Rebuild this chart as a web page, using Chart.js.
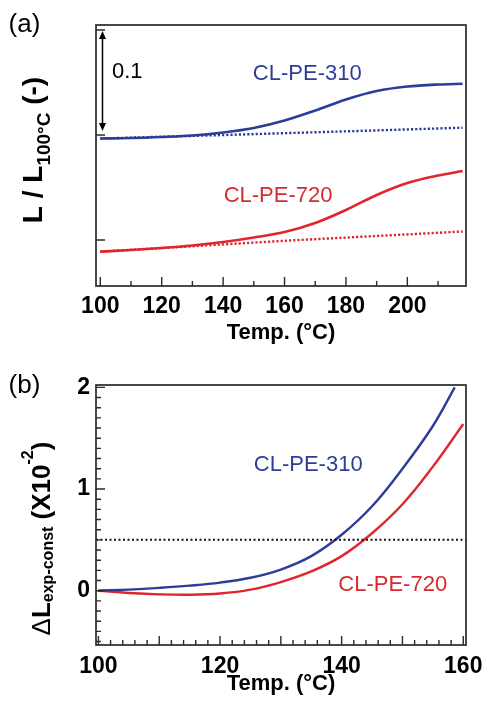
<!DOCTYPE html>
<html><head><meta charset="utf-8">
<script src="https://cdn.jsdelivr.net/npm/chart.js@4.4.0/dist/chart.umd.min.js"></script>
<style>
html,body{margin:0;padding:0;background:#fff;width:485px;height:705px;overflow:hidden}
canvas{position:absolute;left:0}
#ca{top:0}
#cb{top:350px}
</style></head><body>
<canvas id="ca" width="485" height="350" style="width:485px;height:350px"></canvas>
<canvas id="cb" width="485" height="355" style="width:485px;height:355px"></canvas>
<script>
// ===== Panel (a) data =====
const tempA = [100,110,120,130,140,150,160,170,180,190,200,210,218];
const pe310A = [0.9967,0.9971,0.9981,0.9995,1.0024,1.0067,1.0138,1.0233,1.0338,1.0419,1.0462,1.0481,1.0488];
const pe720A = [0.8889,0.8905,0.8924,0.8948,0.8981,0.9024,0.9076,0.9162,0.9286,0.9429,0.9543,0.9614,0.9657];
const tempConst310A = [100,140,180,218];
const pe310ConstA = [0.9967,1.0000,1.0035,1.0070];
const tempConst720A = [100,160,218];
const pe720ConstA = [0.8889,0.8993,0.9081];
const xLabelsA = [100,120,140,160,180,200];
const yTicksA = [0.9,1.0,1.1];

// ===== Panel (b) data =====
const temp310B = [100,105,110,115,120,125,130,135,140,145,150,155,158.6];
const pe310B = [0,0.011,0.028,0.05,0.08,0.127,0.208,0.34,0.55,0.83,1.20,1.62,2.0];
const temp720B = [100,105,110,115,120,125,130,135,140,145,150,155,160];
const pe720B = [0,-0.022,-0.036,-0.040,-0.028,0.01,0.085,0.19,0.34,0.565,0.85,1.22,1.64];
const thresholdB = 0.5;
const xLabelsB = [100,120,140,160];
const yLabelsB = [0,1,2];

const BLUE = '#2c3c9a';
const RED = '#e0262c';
const BLUE_T = '#2e3d98';
const RED_T = '#d72a30';
const FONT = '"Liberation Sans", Arial, Helvetica, sans-serif';

const zip = (xs, ys) => xs.map((x, i) => ({x, y: ys[i]}));
const near = (v, step) => Math.abs(v / step - Math.round(v / step)) < 1e-6;

function frameTicks(cfg) {
  return {
    id: 'frameTicks',
    afterDraw(chart) {
      const {ctx, chartArea: a, scales: {x, y}} = chart;
      ctx.save();
      ctx.strokeStyle = '#2a2a2a';
      ctx.lineWidth = 1.4;
      ctx.beginPath();
      for (let v = cfg.x0; v <= cfg.x1 + 1e-9; v += cfg.xStep) {
        const p = x.getPixelForValue(v);
        const L = near(v, cfg.xMajor) ? 9 : 5;
        ctx.moveTo(p, a.bottom); ctx.lineTo(p, a.bottom - L);
      }
      for (let v = cfg.y0; v <= cfg.y1 + 1e-9; v += cfg.yStep) {
        const p = y.getPixelForValue(v);
        const L = near(v, cfg.yMajor) ? 9 : 5;
        ctx.moveTo(a.left, p); ctx.lineTo(a.left + L, p);
      }
      ctx.stroke();
      ctx.lineWidth = 1.7;
      ctx.strokeRect(a.left, a.top, a.right - a.left, a.bottom - a.top);
      ctx.restore();
    }
  };
}

function drawRich(ctx, parts, cx, cy) {
  ctx.save();
  ctx.translate(cx, cy);
  ctx.rotate(-Math.PI / 2);
  ctx.textBaseline = 'alphabetic';
  ctx.textAlign = 'left';
  ctx.fillStyle = '#000';
  let total = 0;
  parts.forEach(p => { ctx.font = p.font; p.w = ctx.measureText(p.t).width; total += p.w; });
  let xx = -total / 2;
  parts.forEach(p => { ctx.font = p.font; ctx.fillText(p.t, xx, p.dy || 0); xx += p.w; });
  ctx.restore();
}

function label(ctx, text, x, y, font, color, align) {
  ctx.save();
  ctx.font = font; ctx.fillStyle = color;
  ctx.textAlign = align || 'center'; ctx.textBaseline = 'middle';
  ctx.fillText(text, x, y);
  ctx.restore();
}

const annotA = {
  id: 'annotA',
  afterDraw(chart) {
    const {ctx, chartArea: a, scales: {x, y}} = chart;
    label(ctx, '(a)', 24.5, 25, '26px ' + FONT, '#000');
    label(ctx, 'CL-PE-310', x.getPixelForValue(167.4), y.getPixelForValue(1.0581), '22px ' + FONT, BLUE_T);
    label(ctx, 'CL-PE-720', x.getPixelForValue(157.9), y.getPixelForValue(0.9419), '22px ' + FONT, RED_T);
    label(ctx, '0.1', a.left + 16, y.getPixelForValue(1.0605), '22px ' + FONT, '#000', 'left');
    // double arrow spanning 0.1
    const ax = a.left + 6.5;
    const yt = y.getPixelForValue(1.1) + 1;
    const yb = y.getPixelForValue(1.0) - 4;
    ctx.save();
    ctx.strokeStyle = '#000'; ctx.fillStyle = '#000'; ctx.lineWidth = 1.5;
    ctx.beginPath(); ctx.moveTo(ax, yt + 5); ctx.lineTo(ax, yb - 5); ctx.stroke();
    ctx.beginPath(); ctx.moveTo(ax, yt); ctx.lineTo(ax - 3.5, yt + 8); ctx.lineTo(ax + 3.5, yt + 8); ctx.closePath(); ctx.fill();
    ctx.beginPath(); ctx.moveTo(ax, yb); ctx.lineTo(ax - 3.5, yb - 8); ctx.lineTo(ax + 3.5, yb - 8); ctx.closePath(); ctx.fill();
    ctx.restore();
    drawRich(ctx, [
      {t: 'L / L', font: 'bold 28px ' + FONT},
      {t: '100°C', font: 'bold 19px ' + FONT, dy: 8},
      {t: ' (-)', font: 'bold 28px ' + FONT}
    ], 41.7, 150);
  }
};

const annotB = {
  id: 'annotB',
  afterDraw(chart) {
    const {ctx, scales: {x, y}} = chart;
    label(ctx, '(b)', 24.5, 36, '26px ' + FONT, '#000');
    label(ctx, 'CL-PE-310', x.getPixelForValue(134.5), y.getPixelForValue(1.236), '22px ' + FONT, BLUE_T);
    label(ctx, 'CL-PE-720', x.getPixelForValue(148.4), y.getPixelForValue(0.059), '22px ' + FONT, RED_T);
    drawRich(ctx, [
      {t: 'Δ', font: '26px ' + FONT},
      {t: 'L', font: 'bold 26px ' + FONT},
      {t: 'exp-const', font: 'bold 16px ' + FONT, dy: 3},
      {t: ' (X10', font: 'bold 26px ' + FONT},
      {t: '-2', font: 'bold 16px ' + FONT, dy: -17},
      {t: ')', font: 'bold 26px ' + FONT}
    ], 50, 188.5);
  }
};

const tickFont = {family: FONT, size: 23, weight: 'bold'};
const titleFont = {family: FONT, size: 22, weight: 'bold'};

new Chart(document.getElementById('ca'), {
  type: 'line',
  data: {datasets: [
    {data: zip(tempA, pe310A), borderColor: BLUE, borderWidth: 2.6, pointRadius: 0, cubicInterpolationMode: 'monotone'},
    {data: zip(tempConst310A, pe310ConstA), borderColor: BLUE, borderWidth: 2.4, borderDash: [2.2, 2], pointRadius: 0},
    {data: zip(tempA, pe720A), borderColor: RED, borderWidth: 2.6, pointRadius: 0, cubicInterpolationMode: 'monotone'},
    {data: zip(tempConst720A, pe720ConstA), borderColor: RED, borderWidth: 2.4, borderDash: [2.2, 2], pointRadius: 0}
  ]},
  options: {
    responsive: false, animation: false,
    layout: {padding: {top: 25, right: 19, left: 0, bottom: 4}},
    plugins: {legend: {display: false}, tooltip: {enabled: false}},
    scales: {
      x: {
        type: 'linear', min: 98.6, max: 219.1,
        afterBuildTicks: s => { s.ticks = xLabelsA.map(v => ({value: v})); },
        afterFit: s => { s.height = 60; s.paddingLeft = 0; s.paddingRight = 0; },
        grid: {display: false, drawTicks: false}, border: {display: false},
        ticks: {autoSkip: false, maxRotation: 0, padding: 7, color: '#000', font: tickFont},
        title: {display: true, text: 'Temp. (°C)', color: '#000', font: titleFont, padding: {top: 0, bottom: 0}}
      },
      y: {
        type: 'linear', min: 0.8562, max: 1.1048,
        afterBuildTicks: s => { s.ticks = yTicksA.map(v => ({value: v})); },
        afterFit: s => { s.width = 96; s.paddingTop = 0; s.paddingBottom = 0; },
        grid: {display: false, drawTicks: false}, border: {display: false},
        ticks: {display: false}
      }
    }
  },
  plugins: [frameTicks({x0: 100, x1: 210, xStep: 10, xMajor: 20, y0: 0.9, y1: 1.1, yStep: 0.1, yMajor: 0.1}), annotA]
});

const xMinB = 99.6, xMaxB = 160.45;
new Chart(document.getElementById('cb'), {
  type: 'line',
  data: {datasets: [
    {data: [{x: xMinB, y: thresholdB}, {x: xMaxB, y: thresholdB}], borderColor: '#111', borderWidth: 2, borderDash: [2, 2.5], pointRadius: 0},
    {data: zip(temp310B, pe310B), borderColor: BLUE, borderWidth: 2.4, pointRadius: 0, tension: 0.4},
    {data: zip(temp720B, pe720B), borderColor: RED, borderWidth: 2.4, pointRadius: 0, tension: 0.4}
  ]},
  options: {
    responsive: false, animation: false,
    layout: {padding: {top: 35, right: 19, left: 0, bottom: 8}},
    plugins: {legend: {display: false}, tooltip: {enabled: false}},
    scales: {
      x: {
        type: 'linear', min: xMinB, max: xMaxB,
        afterBuildTicks: s => { s.ticks = xLabelsB.map(v => ({value: v})); },
        afterFit: s => { s.height = 52; s.paddingLeft = 0; s.paddingRight = 0; },
        grid: {display: false, drawTicks: false}, border: {display: false},
        ticks: {autoSkip: false, maxRotation: 0, padding: 8, color: '#000', font: tickFont},
        title: {display: true, text: 'Temp. (°C)', color: '#000', font: titleFont, padding: {top: 0, bottom: 0}}
      },
      y: {
        type: 'linear', min: -0.534, max: 2.023,
        afterBuildTicks: s => { s.ticks = yLabelsB.map(v => ({value: v})); },
        afterFit: s => { s.width = 96; s.paddingTop = 0; s.paddingBottom = 0; },
        grid: {display: false, drawTicks: false}, border: {display: false},
        ticks: {autoSkip: false, padding: 6, color: '#000', font: tickFont}
      }
    }
  },
  plugins: [frameTicks({x0: 100, x1: 160, xStep: 2, xMajor: 10, y0: -0.5, y1: 2.0, yStep: 0.1, yMajor: 1}), annotB]
});
</script>
</body></html>
